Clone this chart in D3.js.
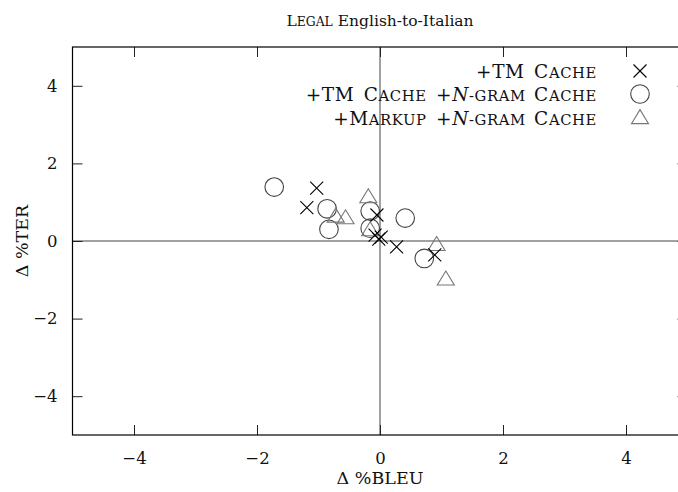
<!DOCTYPE html>
<html><head><meta charset="utf-8">
<script src="https://cdn.jsdelivr.net/npm/d3@7"></script>
<style>
html,body{margin:0;padding:0;background:#fff;overflow:hidden}
text{font-family:"DejaVu Serif",serif;fill:#111}
</style></head>
<body>
<svg id="c" width="678" height="492"></svg>
<script>
const title = "Legal English-to-Italian";
const xLabel = "Δ %BLEU";
const yLabel = "Δ %TER";
const xTicks = [-4, -2, 0, 2, 4];
const yTicks = [-4, -2, 0, 2, 4];
// series: +TM Cache (crosses)
const tmX = [-1.03, -1.19, -0.05, -0.08, -0.02, 0.02, 0.27, 0.89];
const tmY = [1.36, 0.86, 0.67, 0.15, 0.05, 0.10, -0.15, -0.36];
// series: +TM Cache +N-gram Cache (circles)
const ngX = [-1.72, -0.86, -0.83, -0.16, -0.16, 0.41, 0.72];
const ngY = [1.39, 0.83, 0.30, 0.77, 0.33, 0.59, -0.45];
// series: +Markup +N-gram Cache (triangles)
const mkX = [-0.72, -0.56, -0.19, -0.16, 0.92, 1.07];
const mkY = [0.63, 0.59, 1.13, 0.28, -0.10, -0.99];

const svg = d3.select("#c");
const L = 72.5, R = 687.5, T = 47, B = 435;
const x = d3.scaleLinear().domain([-5, 5]).range([L, R]);
const y = d3.scaleLinear().domain([-5, 5]).range([B, T]);

svg.append("line").attr("x1", x(0)).attr("x2", x(0)).attr("y1", T).attr("y2", B)
  .attr("stroke", "#444").attr("stroke-width", 1);
svg.append("line").attr("x1", L).attr("x2", R).attr("y1", y(0)).attr("y2", y(0))
  .attr("stroke", "#444").attr("stroke-width", 1);

const fmt = d => d < 0 ? "−" + Math.abs(d) : d;
const tk = 10;
svg.append("g").attr("transform", `translate(0,${B})`)
  .call(d3.axisBottom(x).tickValues(xTicks).tickSize(-tk).tickPadding(17).tickFormat(fmt))
  .call(g => { g.select(".domain").remove(); g.selectAll("text").attr("font-size", 16.5).attr("fill", "#111").attr("font-family", "DejaVu Serif"); });
svg.append("g").attr("transform", `translate(0,${T})`)
  .call(d3.axisTop(x).tickValues(xTicks).tickSize(-tk).tickFormat(""))
  .call(g => g.select(".domain").remove());
svg.append("g").attr("transform", `translate(${L},0)`)
  .call(d3.axisLeft(y).tickValues(yTicks).tickSize(-tk).tickPadding(15).tickFormat(fmt))
  .call(g => { g.select(".domain").remove(); g.selectAll("text").attr("font-size", 16.5).attr("fill", "#111").attr("font-family", "DejaVu Serif"); });
svg.append("g").attr("transform", `translate(${R},0)`)
  .call(d3.axisRight(y).tickValues(yTicks).tickSize(-tk).tickFormat(""))
  .call(g => g.select(".domain").remove());
svg.selectAll(".tick line").attr("stroke", "#222");

svg.append("rect").attr("x", L).attr("y", T).attr("width", R - L).attr("height", B - T)
  .attr("fill", "none").attr("stroke", "#000").attr("stroke-width", 1.2);

function cross(g, cx, cy, s) {
  g.append("path").attr("d", `M${cx - s},${cy - s}L${cx + s},${cy + s}M${cx - s},${cy + s}L${cx + s},${cy - s}`)
    .attr("stroke", "#000").attr("stroke-width", 1.1).attr("fill", "none");
}
function circ(g, cx, cy) {
  g.append("circle").attr("cx", cx).attr("cy", cy).attr("r", 9.3)
    .attr("stroke", "#444").attr("stroke-width", 1.1).attr("fill", "none");
}
function tri(g, cx, cy) {
  const h = 14, w = 8.5;
  g.append("path").attr("d", `M${cx},${cy - h * 0.6}L${cx + w},${cy + h * 0.4}L${cx - w},${cy + h * 0.4}Z`)
    .attr("stroke", "#777").attr("stroke-width", 1.1).attr("fill", "none");
}
const gm = svg.append("g");
ngX.forEach((v, i) => circ(gm, x(v), y(ngY[i])));
mkX.forEach((v, i) => tri(gm, x(v), y(mkY[i])));
tmX.forEach((v, i) => cross(gm, x(v), y(tmY[i]), 6.5));

function addParts(t, parts, fs) {
  parts.forEach(([s, st]) => {
    const ts = t.append("tspan");
    if (st === "sc") ts.text(s.toUpperCase()).attr("font-size", fs * 0.8);
    else ts.text(s);
    if (st === "it") ts.attr("font-style", "italic");
  });
}
const lfs = 18.5;
const lg = svg.append("g").attr("font-size", lfs).attr("letter-spacing", 0.6).attr("word-spacing", 3);
const rows = [
  [["+TM ", ""], ["C", ""], ["ache", "sc"]],
  [["+TM ", ""], ["C", ""], ["ache", "sc"], [" +", ""], ["N", "it"], ["-gram ", "sc"], ["C", ""], ["ache", "sc"]],
  [["+M", ""], ["arkup", "sc"], [" +", ""], ["N", "it"], ["-gram ", "sc"], ["C", ""], ["ache", "sc"]]
];
const rowY = [77.5, 101, 124.5];
rows.forEach((parts, i) => {
  const t = lg.append("text").attr("x", 597).attr("y", rowY[i]).attr("text-anchor", "end");
  addParts(t, parts, lfs);
});
cross(lg, 640, 71, 6.5);
circ(lg, 640, 94);
tri(lg, 640, 118);

svg.append("text").attr("x", 380).attr("y", 26).attr("text-anchor", "middle").attr("font-size", 15.5)
  .call(t => addParts(t, [["L", ""], ["egal", "sc"], [" English-to-Italian", ""]], 15.5));
svg.append("text").attr("x", 380).attr("y", 484).attr("text-anchor", "middle").attr("font-size", 17.5).text(xLabel);
svg.append("text").attr("transform", `translate(28,${y(0)}) rotate(-90)`).attr("text-anchor", "middle").attr("font-size", 17.5).text(yLabel);
</script>
</body></html>
